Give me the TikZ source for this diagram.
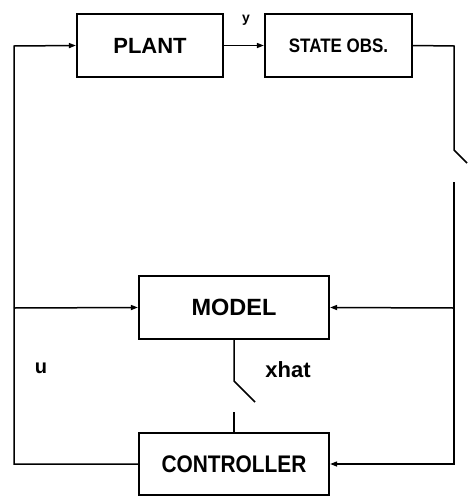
\documentclass[tikz,border=0pt]{standalone}
\usepackage{fontspec}
\setmainfont{Liberation Sans}
\newfontfamily\narrowsans{Liberation Sans}[FakeStretch=0.87]
\usetikzlibrary{arrows.meta}
\begin{document}
\begin{tikzpicture}[x=1pt, y=-1pt, line width=1.5pt,
  block/.style={draw, line width=2.2pt, font=\bfseries\fontsize{22}{25}\selectfont, inner sep=0pt},
  lbl/.style={font=\bfseries\fontsize{20}{23}\selectfont, inner sep=0pt},
  ->/.style={-{Triangle[length=7pt,width=5pt]}}]
\useasboundingbox (0,0) rectangle (468,496);
\node[block, minimum width=146pt, minimum height=63pt] (plant) at (150,45.5) {PLANT};
\node[block, minimum width=147pt, minimum height=63pt, font=\narrowsans\bfseries\fontsize{19.5}{22}\selectfont] (obs) at (338.5,45.5) {STATE OBS.};
\node[block, minimum width=190pt, minimum height=63pt, font=\bfseries\fontsize{23.5}{26}\selectfont] (model) at (234,307.5) {MODEL};
\node[block, minimum width=190pt, minimum height=62pt, font=\narrowsans\bfseries\fontsize{24}{27}\selectfont] (ctrl) at (234,464) {CONTROLLER};
\node[lbl, font=\bfseries\fontsize{14}{16}\selectfont] (ylbl) at (246,20) {y};
\node[lbl] (ulbl) at (41,368) {u};
\node[lbl, font=\bfseries\fontsize{22}{25}\selectfont] (xlbl) at (288,370) {xhat};
\coordinate (ul) at (14,46);
\coordinate (ll) at (14,464);
\coordinate (lm) at (14,308);
\coordinate (ur) at (454,46);
\coordinate (swa) at (454,150);
\coordinate (swb) at (467,163);
\coordinate (swc) at (454,182);
\coordinate (rl) at (454,464);
\coordinate (rm) at (454,308);
\coordinate (ma) at (234,381);
\coordinate (mb) at (255,402);
\coordinate (mc) at (234,412);
\draw[->] (ctrl.west) -- (ll) -- (ul) -- (plant.west);
\draw[->] (lm) -- (model.west);
\draw[->] (plant.east) -- (obs.west);
\draw (obs.east) -- (ur) -- (swa) -- (swb);
\draw[->] (swc) -- (rl) -- (ctrl.east);
\draw[->] (rm) -- (model.east);
\draw (model.south) -- (ma) -- (mb);
\draw (mc) -- (ctrl.north);
\end{tikzpicture}
\end{document}
